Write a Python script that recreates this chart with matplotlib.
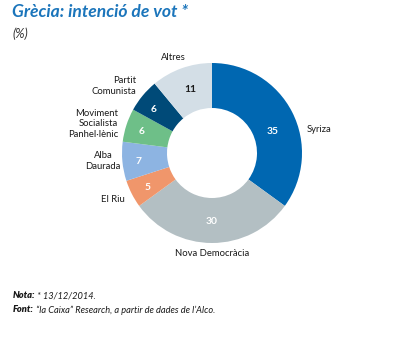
import matplotlib
matplotlib.use("Agg")
import matplotlib.pyplot as plt

plt.rcParams['font.family'] = ['Lato', 'DejaVu Sans']

# ---- data ----
parties = ["Syriza", "Nova Democràcia", "El Riu", "Alba\nDaurada",
           "Moviment\nSocialista\nPanhel·lènic", "Partit\nComunista", "Altres"]
values = [35, 30, 5, 7, 6, 6, 11]
colors = ["#0067b1", "#b3bfc3", "#f0966b", "#8db4e2", "#6ebf88", "#004a78", "#d3dee6"]
value_colors = ["white", "white", "white", "white", "white", "white", "#1a1a1a"]

title = "Grècia: intenció de vot *"
subtitle = "(%)"
note_bold, note_text = "Nota:", " * 13/12/2014."
src_bold, src_text = "Font:", " \u201cla Caixa\u201d Research, a partir de dades de l\u2019Alco."

W, H = 402, 338
fig = plt.figure(figsize=(W / 100, H / 100), dpi=100)
fig.patch.set_facecolor("white")

# pie geometry in pixels
cx, cy, R = 212, 153, 90
ax = fig.add_axes([(cx - R) / W, 1 - (cy + R) / H, 2 * R / W, 2 * R / H])
ax.pie(values, colors=colors, startangle=90, counterclock=False, radius=1,
       wedgeprops=dict(width=0.5, linewidth=0), center=(0, 0))
ax.set_xlim(-1, 1)
ax.set_ylim(-1, 1)
ax.set_aspect("equal")
ax.axis("off")

def px(x, y):
    return x / W, 1 - y / H

# value labels (pixel positions)
val_pos = [(273, 132), (212, 221), (148, 187), (139, 161), (142, 132), (154, 109), (190, 89)]
for v, (x, y), c in zip(values, val_pos, value_colors):
    fig.text(*px(x, y), str(v), color=c, fontsize=7.4, fontweight="bold",
             ha="center", va="center")

# category labels
lab_pos = [(307, 130, "left"), (212, 253, "center"), (125, 199, "right"),
           (103, 161, "center"), (118, 124, "right"), (136, 86, "right"),
           (173, 58, "center")]
for name, (x, y, ha) in zip(parties, lab_pos):
    fig.text(*px(x, y), name, color="#1a1a1a", fontsize=6.8, ha=ha, va="center",
             multialignment=ha, linespacing=1.25)

# title
fig.text(*px(12, 12), title, color="#1b75bb", fontsize=12.6, fontweight="bold",
         fontstyle="italic", ha="left", va="center")
fig.text(*px(12, 34), subtitle, color="#333333", fontsize=9, fontstyle="italic",
         ha="left", va="center")

# footer with mixed styles
renderer = fig.canvas.get_renderer()
for (b, t), y in [((note_bold, note_text), 296), ((src_bold, src_text), 310)]:
    t1 = fig.text(*px(13, y), b, color="#1a1a1a", fontsize=6.7, fontweight="heavy",
                  fontstyle="italic", ha="left", va="center")
    bb = t1.get_window_extent(renderer)
    fig.text(bb.x1 / W, 1 - y / H, t, color="#1a1a1a", fontsize=6.7,
             fontstyle="italic", ha="left", va="center")

fig.savefig("out.png", dpi=100, facecolor="white")
